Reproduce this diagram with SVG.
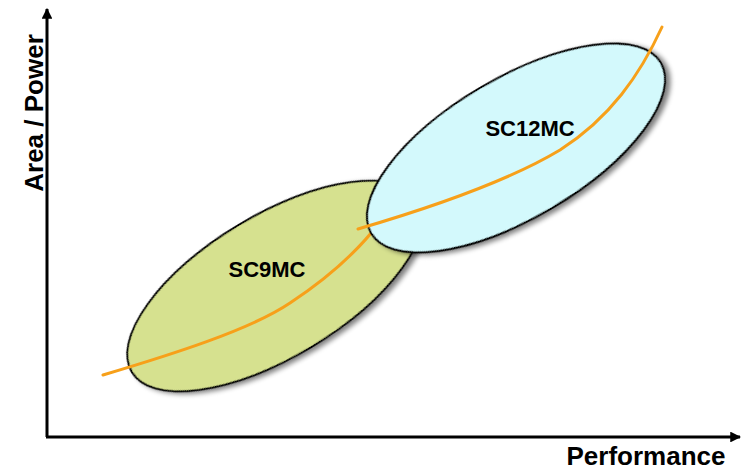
<svg xmlns="http://www.w3.org/2000/svg" width="746" height="470" viewBox="0 0 746 470">
  <defs>
    <filter id="shadow" x="-20%" y="-20%" width="140%" height="150%">
      <feGaussianBlur in="SourceAlpha" stdDeviation="2.5"/>
      <feOffset dx="3" dy="4" result="b"/>
      <feComponentTransfer><feFuncA type="linear" slope="0.5"/></feComponentTransfer>
      <feMerge><feMergeNode/><feMergeNode in="SourceGraphic"/></feMerge>
    </filter>
    <marker id="arrow" viewBox="0 0 10 10" refX="9" refY="5" markerWidth="3.6" markerHeight="3.6" orient="auto" markerUnits="strokeWidth">
      <path d="M0,0 L10,5 L0,10 Z" fill="#000"/>
    </marker>
  </defs>
  <style>
    .axis { stroke: #000; stroke-width: 3; fill: none; }
    .ell { stroke: #000; stroke-width: 2; filter: url(#shadow); }
    .curve { stroke: #F7A01A; stroke-width: 3; fill: none; stroke-linecap: round; }
    .lbl { font-family: "Liberation Sans", Arial, sans-serif; font-weight: bold; fill: #000; }
  </style>
  <rect width="746" height="470" fill="#fff"/>

  <g id="axes">
    <path class="axis" d="M47,437 L47,9" marker-end="url(#arrow)"/>
    <path class="axis" d="M46,437 L740,437" marker-end="url(#arrow)"/>
    <text class="lbl" font-size="26" transform="translate(43,113) rotate(-90)" text-anchor="middle">Area / Power</text>
    <text class="lbl" font-size="26" x="646" y="465" text-anchor="middle">Performance</text>
  </g>

  <g id="sc9mc">
    <ellipse class="ell" cx="275" cy="286" rx="167" ry="71" fill="#D6E18F" transform="rotate(-31 275 286)"/>
    <text class="lbl" font-size="22" x="267" y="277" text-anchor="middle">SC9MC</text>
  </g>

  <g id="connectors">
    <path class="curve" d="M103,375 C170,355 250,330 290,303 C325,280 355,255 380,222"/>
  </g>

  <g id="sc12mc">
    <ellipse class="ell" cx="516" cy="148" rx="168" ry="70" fill="#D3F9FC" transform="rotate(-30.5 516 148)"/>
    <text class="lbl" font-size="22" x="530" y="136" text-anchor="middle">SC12MC</text>
  </g>

  <g id="connectors2">
    <path class="curve" d="M358,229 C440,205 510,180 560,150 C610,118 640,75 662,27"/>
  </g>
</svg>
